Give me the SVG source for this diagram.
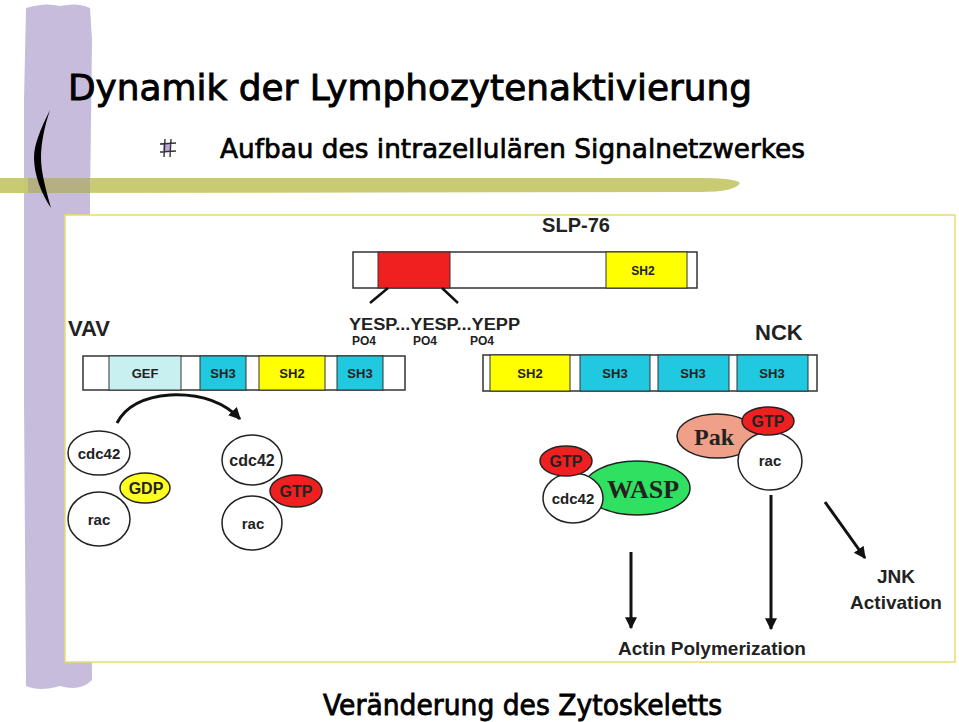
<svg xmlns="http://www.w3.org/2000/svg" width="959" height="722" viewBox="0 0 959 722">
<style>
.t{font-family:"DejaVu Sans","Noto Sans",sans-serif;fill:#000;stroke:#000;stroke-width:0.9}
.h{font-family:"Liberation Sans",Arial,sans-serif;font-weight:bold;fill:#222}
.s{font-family:"Liberation Serif","Times New Roman",serif;font-weight:bold;fill:#222}
.bar{stroke:#333;stroke-width:1.5}
.seg{stroke:#333;stroke-width:1}
.ov{stroke:#222;stroke-width:1.5}
.ln{stroke:#111;stroke-width:3;fill:none}
</style>
<defs>
<marker id="ah" viewBox="0 0 10 10" refX="9" refY="5" markerWidth="4" markerHeight="5" orient="auto" markerUnits="strokeWidth">
<path d="M0,0 L10,5 L0,10 z" fill="#111"/>
</marker>
</defs>
<rect width="959" height="722" fill="#fff"/>
<g id="decor">
<path d="M26,8 Q45,2 60,6 Q78,2 90,8 L92,40 L90,200 L92,680 Q80,692 60,686 Q40,692 26,686 L24,400 L24,100 Z" fill="#c8bcdc"/>
<path d="M0,178 L700,178 Q735,178 740,183 Q735,192 700,192 L0,193 Z" fill="#c5c86a" opacity="0.95"/>
<path d="M28,178 L90,178 L90,193 L28,193 Z" fill="#a9a08a" opacity="0.6"/>
<path d="M50,110 C40,130 34,145 34,158 C34,175 42,195 51,208 C46,190 41,172 41,158 C41,142 45,125 50,110 Z" fill="#000"/>
</g>
<g id="title">
<text class="t" x="68" y="100" font-size="36" textLength="684" lengthAdjust="spacingAndGlyphs">Dynamik der Lymphozytenaktivierung</text>
</g>
<g id="bullet">
<rect x="163" y="143" width="8" height="8" fill="#b8a8d8"/>
<path d="M165,139 L164,157 M171,139 L170,157 M160,144 L176,143 M160,152 L176,151" stroke="#333" stroke-width="1.4"/>
</g>
<g id="subtitle">
<text class="t" x="220" y="158" font-size="27" textLength="585" lengthAdjust="spacingAndGlyphs" style="stroke-width:0.7">Aufbau des intrazellulären Signalnetzwerkes</text>
</g>
<rect x="65" y="215" width="890" height="447" fill="#fff" stroke="#e8dc70" stroke-width="1.5"/>
<g id="slp76">
<text class="h" x="576" y="232" font-size="20" text-anchor="middle">SLP-76</text>
<rect class="bar" x="353" y="252" width="344" height="36" fill="#fff"/>
<rect class="seg" x="378" y="252" width="72" height="36" fill="#f02020"/>
<rect class="seg" x="606" y="252" width="81" height="36" fill="#ffff00"/>
<text class="h" x="643" y="275" font-size="12" text-anchor="middle">SH2</text>
<path d="M388,288 L370,303 M442,288 L458,303" stroke="#111" stroke-width="2.5"/>
<text class="h" x="349" y="330" font-size="16" textLength="171" lengthAdjust="spacingAndGlyphs">YESP...YESP...YEPP</text>
<text class="h" x="352" y="345" font-size="12">PO4</text>
<text class="h" x="413" y="345" font-size="12">PO4</text>
<text class="h" x="470" y="345" font-size="12">PO4</text>
</g>
<g id="vav">
<text class="h" x="68" y="336" font-size="22">VAV</text>
<rect class="bar" x="83" y="356" width="322" height="34" fill="#fff"/>
<rect class="seg" x="109" y="356" width="72" height="34" fill="#c8f0f0"/>
<rect class="seg" x="200" y="356" width="46" height="34" fill="#20c8e0"/>
<rect class="seg" x="259" y="356" width="66" height="34" fill="#ffff00"/>
<rect class="seg" x="337" y="356" width="46" height="34" fill="#20c8e0"/>
<text class="h" x="145" y="378" font-size="13" text-anchor="middle">GEF</text>
<text class="h" x="223" y="378" font-size="13" text-anchor="middle">SH3</text>
<text class="h" x="292" y="378" font-size="13" text-anchor="middle">SH2</text>
<text class="h" x="360" y="378" font-size="13" text-anchor="middle">SH3</text>
</g>
<g id="nck">
<text class="h" x="755" y="340" font-size="22">NCK</text>
<rect class="bar" x="483" y="355" width="334" height="36" fill="#fff"/>
<rect class="seg" x="490" y="355" width="80" height="36" fill="#ffff00"/>
<rect class="seg" x="580" y="355" width="70" height="36" fill="#20c8e0"/>
<rect class="seg" x="658" y="355" width="71" height="36" fill="#20c8e0"/>
<rect class="seg" x="737" y="355" width="71" height="36" fill="#20c8e0"/>
<text class="h" x="530" y="378" font-size="13" text-anchor="middle">SH2</text>
<text class="h" x="615" y="378" font-size="13" text-anchor="middle">SH3</text>
<text class="h" x="693" y="378" font-size="13" text-anchor="middle">SH3</text>
<text class="h" x="772" y="378" font-size="13" text-anchor="middle">SH3</text>
</g>
<g id="left-complex">
<ellipse class="ov" cx="99" cy="519" rx="31" ry="27" fill="#fff"/>
<ellipse class="ov" cx="99" cy="453" rx="31" ry="22" fill="#fff"/>
<ellipse class="ov" cx="145" cy="488" rx="25" ry="15" fill="#ffff20"/>
<text class="h" x="99" y="459" font-size="15" text-anchor="middle">cdc42</text>
<text class="h" x="146" y="494" font-size="16" text-anchor="middle">GDP</text>
<text class="h" x="99" y="525" font-size="15" text-anchor="middle">rac</text>
</g>
<g id="middle-complex">
<ellipse class="ov" cx="252" cy="523" rx="30" ry="27" fill="#fff"/>
<ellipse class="ov" cx="252" cy="460" rx="30" ry="25" fill="#fff"/>
<ellipse class="ov" cx="296" cy="491" rx="26" ry="16" fill="#f02020"/>
<text class="h" x="252" y="466" font-size="16" text-anchor="middle">cdc42</text>
<text class="h" x="296" y="497" font-size="16" text-anchor="middle">GTP</text>
<text class="h" x="253" y="529" font-size="15" text-anchor="middle">rac</text>
</g>
<g id="wasp-complex">
<ellipse class="ov" cx="637" cy="488" rx="53" ry="27" fill="#30e060"/>
<ellipse class="ov" cx="573" cy="498" rx="30" ry="25" fill="#fff"/>
<ellipse class="ov" cx="566" cy="461" rx="26" ry="15" fill="#f02020"/>
<text class="s" x="643" y="498" font-size="26" text-anchor="middle">WASP</text>
<text class="h" x="573" y="504" font-size="15" text-anchor="middle">cdc42</text>
<text class="h" x="566" y="467" font-size="16" text-anchor="middle">GTP</text>
</g>
<g id="pak-complex">
<ellipse class="ov" cx="717" cy="436" rx="40" ry="22" fill="#f0a088"/>
<ellipse class="ov" cx="770" cy="461" rx="32" ry="29" fill="#fff"/>
<ellipse class="ov" cx="768" cy="421" rx="26" ry="14" fill="#f02020"/>
<text class="s" x="714" y="445" font-size="24" text-anchor="middle">Pak</text>
<text class="h" x="770" y="466" font-size="15" text-anchor="middle">rac</text>
<text class="h" x="768" y="427" font-size="16" text-anchor="middle">GTP</text>
</g>
<g id="connectors">
<path class="ln" d="M117,423 Q130,398 170,395 Q215,393 240,419" marker-end="url(#ah)"/>
<path class="ln" d="M631,552 L631,628" marker-end="url(#ah)"/>
<path class="ln" d="M771,495 L771,629" marker-end="url(#ah)"/>
<path class="ln" d="M825,502 L865,558" marker-end="url(#ah)"/>
</g>
<g id="outputs">
<text class="h" x="896" y="583" font-size="19" text-anchor="middle">JNK</text>
<text class="h" x="896" y="609" font-size="19" text-anchor="middle">Activation</text>
<text class="h" x="712" y="655" font-size="19" text-anchor="middle">Actin Polymerization</text>
</g>
<g id="footer">
<text class="t" x="323" y="715" font-size="28" textLength="399" lengthAdjust="spacingAndGlyphs" style="stroke-width:0.8">Veränderung des Zytoskeletts</text>
</g>
</svg>
